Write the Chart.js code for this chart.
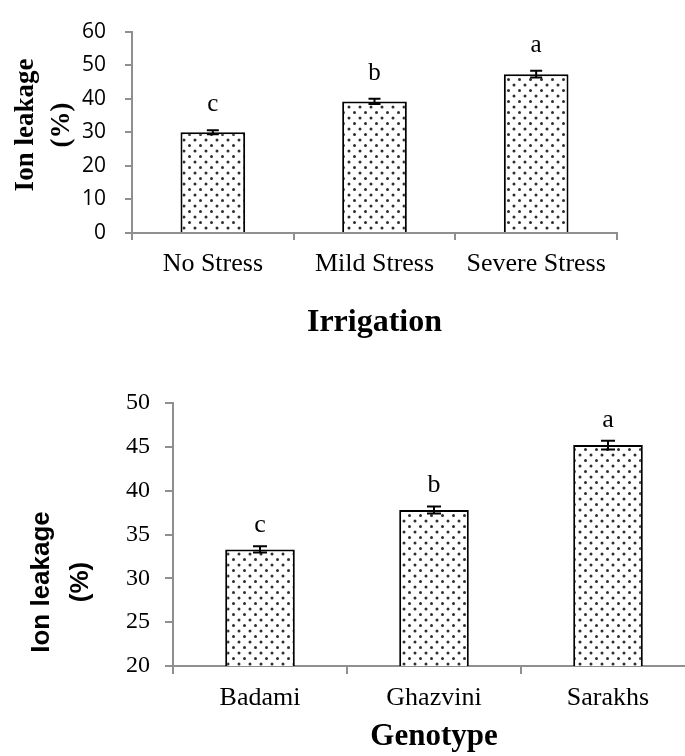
<!DOCTYPE html>
<html>
<head>
<meta charset="utf-8">
<script src="https://cdn.jsdelivr.net/npm/chart.js@4/dist/chart.umd.min.js"></script>
<style>
  html, body { margin: 0; padding: 0; overflow: hidden; background: #fff; }
  canvas { position: absolute; left: 0; }
</style>
</head>
<body>
<canvas id="irrigation" width="685" height="360" style="top:0"></canvas>
<canvas id="genotype" width="695" height="386" style="top:370px"></canvas>
<script>
const irrigationLabels = ['No Stress', 'Mild Stress', 'Severe Stress'];
const irrigationValues = [30.0, 39.2, 47.3];
const irrigationErrors = [0.6, 0.8, 1.0];
const irrigationLetters = ['c', 'b', 'a'];

const genotypeLabels = ['Badami', 'Ghazvini', 'Sarakhs'];
const genotypeValues = [33.3, 37.8, 45.2];
const genotypeErrors = [0.35, 0.4, 0.5];
const genotypeLetters = ['c', 'b', 'a'];

const axisGray = '#8f8f8f';
const serif = "'Liberation Serif', 'Times New Roman', serif";
const sans = "'Open Sans', 'Liberation Sans', Arial, sans-serif";

const dotPattern = () => {
  const c = document.createElement('canvas');
  c.width = 11; c.height = 11;
  const g = c.getContext('2d');
  g.fillStyle = '#fff';
  g.fillRect(0, 0, 11, 11);
  g.fillStyle = '#2e2e2e';
  [[2.5, 2.5], [8, 8]].forEach(([px, py]) => {
    g.beginPath();
    g.arc(px, py, 1.5, 0, Math.PI * 2);
    g.fill();
  });
  return g.createPattern(c, 'repeat');
};

// error bars, significance letters and the two-line y title
const extras = {
  id: 'extras',
  afterDatasetsDraw(chart, args, opts) {
    const { ctx, scales: { y } } = chart;
    const values = chart.data.datasets[0].data;
    ctx.save();
    chart.getDatasetMeta(0).data.forEach((bar, i) => {
      const top = y.getPixelForValue(values[i] + opts.errors[i]);
      const bot = y.getPixelForValue(values[i] - opts.errors[i]);
      ctx.strokeStyle = '#000';
      ctx.lineWidth = 2;
      ctx.beginPath();
      ctx.moveTo(bar.x, top); ctx.lineTo(bar.x, bot);
      ctx.moveTo(bar.x - opts.cap, top); ctx.lineTo(bar.x + opts.cap, top);
      ctx.moveTo(bar.x - opts.cap, bot); ctx.lineTo(bar.x + opts.cap, bot);
      ctx.stroke();
      ctx.fillStyle = '#000';
      ctx.font = opts.letterFont;
      ctx.textAlign = 'center';
      ctx.textBaseline = 'alphabetic';
      ctx.fillText(opts.letters[i], bar.x, top - opts.letterGap);
    });
    const t = opts.yTitle;
    ctx.font = t.font;
    ctx.textAlign = 'center';
    ctx.textBaseline = 'middle';
    t.lines.forEach((line, i) => {
      ctx.save();
      ctx.translate(t.x[i], t.y);
      ctx.rotate(-Math.PI / 2);
      ctx.fillText(line, 0, 0);
      ctx.restore();
    });
    ctx.restore();
  }
};

const makeChart = (id, cfg) => new Chart(document.getElementById(id), {
  type: 'bar',
  data: {
    labels: cfg.labels,
    datasets: [{
      data: cfg.values,
      backgroundColor: dotPattern(),
      borderColor: '#000',
      borderWidth: 2,
      categoryPercentage: 1,
      barPercentage: 0.4,
    }],
  },
  options: {
    responsive: false,
    animation: false,
    devicePixelRatio: 1,
    layout: { padding: cfg.padding },
    plugins: {
      legend: { display: false },
      tooltip: { enabled: false },
      extras: cfg.extras,
    },
    scales: {
      x: {
        afterFit: (s) => { s.height = cfg.xHeight; },
        grid: { offset: true, drawOnChartArea: false, tickLength: cfg.tickLen, color: axisGray, lineWidth: 2 },
        border: { color: axisGray, width: 2 },
        ticks: { color: '#000', font: { family: serif, size: cfg.xTickSize }, padding: cfg.xTickPad },
        title: {
          display: true,
          text: cfg.xTitle,
          color: '#000',
          font: { family: serif, size: cfg.xTitleSize, weight: 'bold' },
          padding: { top: 0, bottom: cfg.xTitlePad },
        },
      },
      y: {
        min: cfg.yMin,
        max: cfg.yMax,
        afterFit: (s) => { s.width = cfg.yWidth; },
        grid: { drawOnChartArea: false, tickLength: cfg.tickLen, color: axisGray, lineWidth: 2 },
        border: { color: axisGray, width: 2 },
        ticks: { stepSize: cfg.yStep, color: '#000', font: cfg.yTickFont, padding: cfg.yTickPad },
      },
    },
  },
  plugins: [extras],
});

makeChart('irrigation', {
  labels: irrigationLabels,
  values: irrigationValues,
  padding: { top: 19, right: 68, left: 0, bottom: 0 },
  xHeight: 127,
  tickLen: 7,
  xTickSize: 26,
  xTickPad: 9,
  xTitle: 'Irrigation',
  xTitleSize: 32,
  xTitlePad: 18,
  yMin: 0, yMax: 60, yStep: 10,
  yWidth: 132,
  yTickFont: { family: sans, size: 21 },
  yTickPad: 19,
  extras: {
    errors: irrigationErrors,
    letters: irrigationLetters,
    cap: 6,
    letterFont: '25px ' + serif,
    letterGap: 19,
    yTitle: { lines: ['Ion leakage', '(%)'], font: 'bold 27px ' + serif, x: [26, 62], y: 125 },
  },
});

makeChart('genotype', {
  labels: genotypeLabels,
  values: genotypeValues,
  padding: { top: 33, right: 0, left: 0, bottom: 0 },
  xHeight: 90,
  tickLen: 8,
  xTickSize: 26,
  xTickPad: 9,
  xTitle: 'Genotype',
  xTitleSize: 31,
  xTitlePad: 0,
  yMin: 20, yMax: 50, yStep: 5,
  yWidth: 173,
  yTickFont: { family: serif, size: 24 },
  yTickPad: 15,
  extras: {
    errors: genotypeErrors,
    letters: genotypeLetters,
    cap: 7,
    letterFont: '26px ' + serif,
    letterGap: 14,
    yTitle: { lines: ['Ion leakage', '(%)'], font: 'bold 26px ' + "'Liberation Sans', Arial, sans-serif", x: [42, 81], y: 212 },
  },
});
</script>
</body>
</html>
